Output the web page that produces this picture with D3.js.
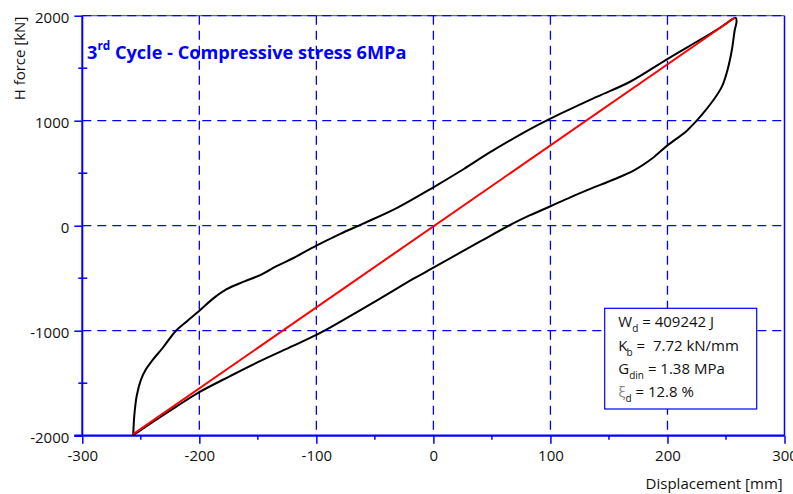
<!DOCTYPE html>
<html><head><meta charset="utf-8">
<script src="https://cdn.jsdelivr.net/npm/d3@7"></script>
<style>body{margin:0;background:#fff} svg{display:block} text{white-space:pre}</style>
</head><body><svg id="c" width="793" height="494"></svg>
<script>
// ---- data ----
const xTicks = [-300, -200, -100, 0, 100, 200, 300];
const yTicks = [-2000, -1000, 0, 1000, 2000];
const xMinorTicks = [-250, -150, -50, 50, 150, 250];
const yMinorTicks = [-1500, -500, 500, 1500];
const xGridValues = [-200, -100, 0, 100, 200];
const yGridValues = [-1000, 0, 1000, 2000];

// hysteresis loop (displacement mm, force kN), traced in order
const loopDisp = [
  -256.5, -255.5, -253.5, -250, -245.5, -240, -231, -220, -210, -199.5, -188, -177, -162, -148, -134, -120, -100, -80, -60, -31, 0, 26, 48.5, 82.6, 100, 140, 168, 199.5, 225, 240, 250, 256, 258.5,
  259, 257.5, 255, 251.3, 246.5, 239.3, 228, 216.6, 199.5, 188, 171, 154, 134, 117, 100, 82.6, 65.6, 40, 0, -17, -45.6, -93, -100, -120, -150, -174, -200, -220, -240, -256.5
];
const loopForce = [
  -1995, -1800, -1620, -1470, -1365, -1280, -1160, -1000, -905, -805, -692, -607, -533, -470, -385, -310, -190, -80, 20, 170, 366, 540, 700, 920, 1020, 1229, 1371, 1585, 1752, 1850, 1925, 1972, 1978,
  1940, 1864, 1673, 1483, 1324, 1197, 1038, 905, 760, 650, 525, 440, 350, 270, 185, 100, 7, -150, -400, -505, -695, -1000, -1040, -1145, -1300, -1434, -1585, -1725, -1870, -1995
];
// effective stiffness line
const stiffDisp = [-256.5, 257.5];
const stiffForce = [-1985, 1980];

const titleMain = "3";
const titleSup = "rd";
const titleRest = " Cycle - Compressive stress 6MPa";
const xLabel = "Displacement [mm]";
const yLabel = "H force [kN]";
const legendSymbols = ["W", "K", "G", "ξ"];
const legendSubs = ["d", "b", "din", "d"];
const legendValues = [" = 409242 J", " =  7.72 kN/mm", " = 1.38 MPa", " = 12.8 %"];

// ---- drawing ----
const svg = d3.select("#c");
const BLUE = "#0000ff";
const x = d3.scaleLinear().domain([-300, 300]).range([82.3, 784.5]);
const y = d3.scaleLinear().domain([-2000, 2000]).range([435.7, 15.7]);
const font = "'Open Sans', sans-serif";
const fmt = d => String(d);

// grid
svg.append("g").selectAll("line").data(xGridValues).join("line")
  .attr("x1", d => x(d)).attr("x2", d => x(d))
  .attr("y1", y(2000)).attr("y2", y(-2000))
  .attr("stroke", BLUE).attr("stroke-width", 1.3).attr("stroke-dasharray", "9,6");
svg.append("g").selectAll("line").data(yGridValues).join("line")
  .attr("x1", x(-300)).attr("x2", x(300))
  .attr("y1", d => y(d)).attr("y2", d => y(d))
  .attr("stroke", BLUE).attr("stroke-width", 1.3).attr("stroke-dasharray", "9,6");

// frame: top thin, right border
svg.append("line").attr("x1", x(-300)).attr("x2", x(300)).attr("y1", y(2000)).attr("y2", y(2000))
  .attr("stroke", BLUE).attr("stroke-width", 0.8);
svg.append("line").attr("x1", x(300)).attr("x2", x(300)).attr("y1", y(2000)).attr("y2", y(-2000))
  .attr("stroke", BLUE).attr("stroke-width", 1.5);

// axes
const xAxis = d3.axisBottom(x).tickValues(xTicks).tickSize(8).tickPadding(7).tickFormat(fmt);
const gx = svg.append("g").attr("transform", `translate(0,${y(-2000)})`).call(xAxis);
gx.select(".domain").attr("stroke", BLUE).attr("stroke-width", 2.3).attr("d", `M${x(-300)-8},0H${x(300)}`);
gx.selectAll(".tick line").attr("stroke", BLUE).attr("stroke-width", 1.5);
gx.selectAll(".tick text").attr("font-family", font).attr("font-size", 15).attr("fill", "#111");
gx.append("g").selectAll("line").data(xMinorTicks).join("line")
  .attr("x1", d => x(d)).attr("x2", d => x(d)).attr("y1", 0).attr("y2", 4)
  .attr("stroke", BLUE).attr("stroke-width", 1.5);

const yAxis = d3.axisLeft(y).tickValues(yTicks).tickSize(8).tickPadding(5).tickFormat(fmt);
const gy = svg.append("g").attr("transform", `translate(${x(-300)},0)`).call(yAxis);
gy.select(".domain").attr("stroke", BLUE).attr("stroke-width", 2).attr("d", `M0,${y(2000)}V${y(-2000)}`);
gy.selectAll(".tick line").attr("stroke", BLUE).attr("stroke-width", 1.5);
gy.selectAll(".tick text").attr("font-family", font).attr("font-size", 15).attr("fill", "#111").attr("dy", "0.42em");
gy.append("g").selectAll("line").data(yMinorTicks).join("line")
  .attr("x1", -4).attr("x2", 5).attr("y1", d => y(d)).attr("y2", d => y(d))
  .attr("stroke", BLUE).attr("stroke-width", 1.5);

// axis titles
svg.append("text").attr("x", 782.7).attr("y", 488.5).attr("text-anchor", "end")
  .attr("font-family", font).attr("font-size", 15).attr("fill", "#111").text(xLabel);
svg.append("text").attr("transform", "translate(25,58.5) rotate(-90)").attr("text-anchor", "middle")
  .attr("font-family", font).attr("font-size", 15).attr("fill", "#111").text(yLabel);

// title
const title = svg.append("text").attr("x", 87).attr("y", 59.3)
  .attr("font-family", font).attr("font-weight", "bold").attr("font-size", 18).attr("fill", BLUE);
title.append("tspan").text(titleMain);
title.append("tspan").attr("font-size", 12).attr("dy", -9).text(titleSup);
title.append("tspan").attr("dy", 9).text(titleRest);
const tw = title.node().getComputedTextLength();
const fs = 18 * 320 / tw;
title.attr("font-size", fs);
title.select("tspan:nth-child(2)").attr("font-size", fs * 0.65);

// curves
const pts = loopDisp.map((d, i) => [d, loopForce[i]]);
const line = d3.line().x(d => x(d[0])).y(d => y(d[1])).curve(d3.curveCatmullRom.alpha(0.5));
svg.append("path").attr("d", line(pts)).attr("fill", "none").attr("stroke", "#000").attr("stroke-width", 2);
const spts = stiffDisp.map((d, i) => [d, stiffForce[i]]);
svg.append("path").attr("d", d3.line().x(d => x(d[0])).y(d => y(d[1]))(spts))
  .attr("fill", "none").attr("stroke", "#ff0000").attr("stroke-width", 2);

// legend box
const lg = svg.append("g");
lg.append("rect").attr("x", 604.7).attr("y", 308.3).attr("width", 152).attr("height", 100.7)
  .attr("fill", "#fff").attr("stroke", BLUE).attr("stroke-width", 1.2);
legendSymbols.forEach((s, i) => {
  const t = lg.append("text").attr("x", 618.3).attr("y", 327.3 + i * 23.2)
    .attr("font-family", font).attr("font-size", 15).attr("fill", "#111");
  t.append("tspan").attr("fill", i === 3 ? "#888" : "#111").text(s);
  t.append("tspan").attr("font-size", 10).attr("dy", 5).attr("dx", i === 1 ? -1 : 0).text(legendSubs[i]);
  t.append("tspan").attr("dy", -5).text(legendValues[i]);
});
</script></body></html>
